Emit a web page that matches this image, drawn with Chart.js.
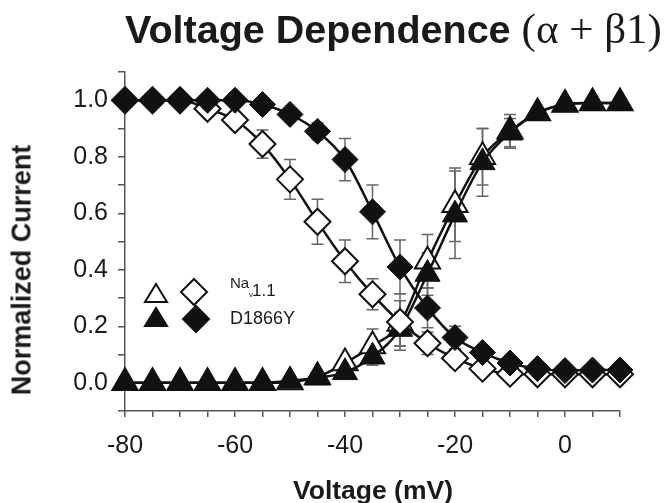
<!DOCTYPE html>
<html><head><meta charset="utf-8">
<script src="https://cdn.jsdelivr.net/npm/chart.js@4"></script>
<style>
html,body{margin:0;padding:0;background:#fff;}
#wrap{position:relative;width:666px;height:503px;overflow:hidden;background:#fff;}
#c{position:absolute;left:0;top:0;}
.t{position:absolute;white-space:nowrap;color:#1a1a1a;font-family:"Liberation Sans",Arial,sans-serif;line-height:1;}
</style></head>
<body>
<div id="wrap">
<canvas id="c" width="666" height="503"></canvas>
<div class="t" id="title" style="left:125px;top:7px;font-size:39.5px;font-weight:bold;">Voltage Dependence <span style="font-family:'Liberation Serif','Times New Roman',serif;font-weight:normal;font-size:43px;">(α + β1)</span></div>
<div class="t" id="ytitle" style="left:22px;top:270px;font-size:27px;font-weight:bold;transform:translate(-50%,-50%) rotate(-90deg);">Normalized Current</div>
<div class="t" id="xtitle" style="left:373px;top:477px;font-size:26.5px;font-weight:bold;transform:translateX(-50%);">Voltage (mV)</div>
<div class="t" style="left:230px;top:275px;font-size:15px;">Na</div>
<div class="t" style="left:249px;top:291px;font-size:8px;">v</div>
<div class="t" style="left:252px;top:282px;font-size:17px;">1.1</div>
<div class="t" style="left:230px;top:309px;font-size:18px;">D1866Y</div>
</div>
<script>
// ---- data ----
const voltages = [-80,-75,-70,-65,-60,-55,-50,-45,-40,-35,-30,-25,-20,-15,-10,-5,0,5,10];

// Nav1.1 activation (open triangles)
const navAct    = [0,0,0,0,0,0,0.003,0.02,0.07,0.13,0.21,0.43,0.63,0.80,0.89,0.955,0.985,0.99,0.99];
const navActErr = [null,null,null,null,null,null,null,null,0.02,0.06,0.08,0.095,0.13,0.10,0.06,null,null,null,null];
// D1866Y activation (filled triangles)
const mutAct    = [0,0,0,0,0,0,0.007,0.018,0.037,0.092,0.19,0.385,0.595,0.78,0.885,0.955,0.985,0.99,0.99];
const mutActErr = [null,null,null,null,null,null,null,null,0.015,0.03,0.06,0.075,0.155,0.12,0.05,null,null,null,null];
// Nav1.1 inactivation (open diamonds)
const navInact    = [1.0,1.0,1.0,0.97,0.93,0.845,0.72,0.57,0.43,0.313,0.215,0.14,0.087,0.05,0.032,0.03,0.03,0.03,0.03];
const navInactErr = [null,null,0.01,0.02,0.03,0.05,0.07,0.08,0.075,0.055,0.1,0.04,0.03,null,null,null,null,null,null];
// D1866Y inactivation (filled diamonds)
const mutInact    = [1.0,1.0,1.0,1.0,1.0,0.985,0.95,0.89,0.79,0.605,0.41,0.265,0.16,0.107,0.07,0.05,0.043,0.045,0.045];
const mutInactErr = [null,null,null,null,null,null,null,0.03,0.075,0.095,0.095,0.07,0.04,null,null,null,null,null,null];

const xTicks = [-80,-75,-70,-65,-60,-55,-50,-45,-40,-35,-30,-25,-20,-15,-10,-5,0,5,10];
const xTickLabels = ['-80','','','','-60','','','','-40','','','','-20','','','','0','',''];
const yTicks = [-0.1,0,0.1,0.2,0.3,0.4,0.5,0.6,0.7,0.8,0.9,1.0,1.1];
const yTickLabels = ['','0.0','','0.2','','0.4','','0.6','','0.8','','1.0',''];

// ---- chart ----
const FONT = '"Liberation Sans", Arial, sans-serif';
const INK = '#111';
const AXIS = '#555';

function pts(vals){ return voltages.map((v,i)=>({x:v,y:vals[i]})); }

function ds(label, vals, err, style, filled, radius, order){
  return {
    label, data: pts(vals), errors: err, order,
    showLine: true, borderColor: INK, borderWidth: 2.5,
    cubicInterpolationMode: 'monotone',
    pointStyle: style, pointRadius: radius, pointHoverRadius: radius,
    pointBackgroundColor: filled ? INK : '#fff',
    pointBorderColor: INK, pointBorderWidth: filled ? 1 : 2,
    clip: false
  };
}

const errorBars = {
  id: 'errorBars',
  beforeDatasetsDraw(chart){
    const ctx = chart.ctx, xs = chart.scales.x, ys = chart.scales.y;
    ctx.save();
    ctx.strokeStyle = '#666'; ctx.lineWidth = 1.5;
    chart.data.datasets.forEach(d => {
      if (!d.errors) return;
      d.data.forEach((p,i) => {
        const e = d.errors[i];
        if (e == null) return;
        const x = xs.getPixelForValue(p.x);
        const y1 = ys.getPixelForValue(p.y + e), y2 = ys.getPixelForValue(p.y - e);
        ctx.beginPath();
        ctx.moveTo(x, y1); ctx.lineTo(x, y2);
        ctx.moveTo(x-6, y1); ctx.lineTo(x+6, y1);
        ctx.moveTo(x-6, y2); ctx.lineTo(x+6, y2);
        ctx.stroke();
      });
    });
    ctx.restore();
  }
};

const legendMarks = {
  id: 'legendMarks',
  afterDraw(chart){
    const ctx = chart.ctx;
    function tri(cx, top, bottom, hw, filled){
      ctx.beginPath();
      ctx.moveTo(cx, top); ctx.lineTo(cx+hw, bottom); ctx.lineTo(cx-hw, bottom); ctx.closePath();
      ctx.fillStyle = filled ? INK : '#fff'; ctx.fill();
      ctx.lineWidth = 2; ctx.strokeStyle = INK; ctx.stroke();
    }
    function dia(cx, cy, hw, hh, filled){
      ctx.beginPath();
      ctx.moveTo(cx, cy-hh); ctx.lineTo(cx+hw, cy); ctx.lineTo(cx, cy+hh); ctx.lineTo(cx-hw, cy); ctx.closePath();
      ctx.fillStyle = filled ? INK : '#fff'; ctx.fill();
      ctx.lineWidth = 2; ctx.strokeStyle = INK; ctx.stroke();
    }
    ctx.save();
    tri(156, 284, 302, 11, false);
    dia(194, 292, 13, 13, false);
    tri(156, 308, 326, 11, true);
    dia(196, 319, 13, 13, true);
    ctx.restore();
  }
};

new Chart(document.getElementById('c'), {
  type: 'scatter',
  data: {
    datasets: [
      ds('D1866Y inactivation', mutInact, mutInactErr, 'rectRot', true, 13, 0),
      ds('Nav1.1 inactivation', navInact, navInactErr, 'rectRot', false, 13, 1),
      ds('D1866Y activation', mutAct, mutActErr, 'triangle', true, 14.5, 2),
      ds('Nav1.1 activation', navAct, navActErr, 'triangle', false, 14.5, 3)
    ]
  },
  options: {
    responsive: false, animation: false, devicePixelRatio: 1,
    layout: { padding: { left: 0, right: 46, top: 72, bottom: 0 } },
    plugins: { legend: { display: false }, title: { display: false }, tooltip: { enabled: false } },
    scales: {
      x: {
        type: 'linear', min: -80, max: 10,
        afterFit(s){ s.height = 92; },
        afterBuildTicks(s){ s.ticks = xTicks.map(v => ({ value: v })); },
        ticks: { autoSkip: false, maxRotation: 0, padding: 14, color: '#1a1a1a',
                 font: { family: FONT, size: 25 },
                 callback: (v, i) => xTickLabels[i] },
        grid: { drawOnChartArea: false, drawTicks: true, tickLength: 6, color: AXIS, lineWidth: 1.5 },
        border: { display: true, color: AXIS, width: 1.5 }
      },
      y: {
        type: 'linear', min: -0.1, max: 1.1,
        afterFit(s){ s.width = 125; },
        afterBuildTicks(s){ s.ticks = yTicks.map(v => ({ value: v })); },
        ticks: { autoSkip: false, padding: 10, color: '#1a1a1a',
                 font: { family: FONT, size: 25 },
                 callback: (v, i) => yTickLabels[i] },
        grid: { drawOnChartArea: false, drawTicks: true, tickLength: 7, color: AXIS, lineWidth: 1.5 },
        border: { display: true, color: AXIS, width: 1.5 }
      }
    }
  },
  plugins: [errorBars, legendMarks]
});
</script>
</body></html>
